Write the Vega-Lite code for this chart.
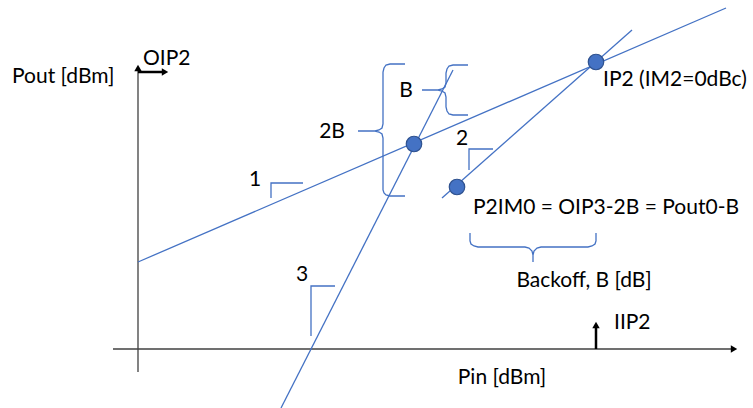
{
  "$schema": "https://vega.github.io/schema/vega-lite/v6.json",
  "width": 753,
  "height": 408,
  "padding": 0,
  "autosize": {"type": "fit", "contains": "padding"},
  "background": "white",
  "config": {"view": {"stroke": null}},
  "datasets": {
    "blue": [
      {"id": "L1", "k": 0, "pin": 0, "pout": 87}, {"id": "L1", "k": 1, "pin": 588, "pout": 341},
      {"id": "L2", "k": 0, "pin": 304, "pout": 151}, {"id": "L2", "k": 1, "pin": 494, "pout": 319},
      {"id": "L3", "k": 0, "pin": 143, "pout": -59}, {"id": "L3", "k": 1, "pin": 315, "pout": 279},
      {"id": "m1", "k": 0, "pin": 133, "pout": 151}, {"id": "m1", "k": 1, "pin": 133, "pout": 166}, {"id": "m1", "k": 2, "pin": 165, "pout": 166},
      {"id": "m2", "k": 0, "pin": 331, "pout": 179}, {"id": "m2", "k": 1, "pin": 331, "pout": 200}, {"id": "m2", "k": 2, "pin": 355, "pout": 200},
      {"id": "m3", "k": 0, "pin": 173, "pout": 13}, {"id": "m3", "k": 1, "pin": 173, "pout": 63}, {"id": "m3", "k": 2, "pin": 197, "pout": 63},
      {"id": "b2B", "k": 0, "pin": 267, "pout": 285}, {"id": "b2B", "k": 1, "pin": 252, "pout": 285}, {"id": "b2B", "k": 2, "pin": 248, "pout": 284},
      {"id": "b2B", "k": 3, "pin": 246, "pout": 281}, {"id": "b2B", "k": 4, "pin": 245, "pout": 277}, {"id": "b2B", "k": 5, "pin": 245, "pout": 225},
      {"id": "b2B", "k": 6, "pin": 244, "pout": 221}, {"id": "b2B", "k": 7, "pin": 241, "pout": 219}, {"id": "b2B", "k": 8, "pin": 237, "pout": 218},
      {"id": "b2B", "k": 9, "pin": 220, "pout": 218}, {"id": "b2B", "k": 10, "pin": 237, "pout": 218}, {"id": "b2B", "k": 11, "pin": 241, "pout": 217},
      {"id": "b2B", "k": 12, "pin": 244, "pout": 215}, {"id": "b2B", "k": 13, "pin": 245, "pout": 211}, {"id": "b2B", "k": 14, "pin": 245, "pout": 159},
      {"id": "b2B", "k": 15, "pin": 246, "pout": 156}, {"id": "b2B", "k": 16, "pin": 248, "pout": 154}, {"id": "b2B", "k": 17, "pin": 252, "pout": 153},
      {"id": "b2B", "k": 18, "pin": 267, "pout": 153},
      {"id": "bB", "k": 0, "pin": 330, "pout": 284}, {"id": "bB", "k": 1, "pin": 315, "pout": 284}, {"id": "bB", "k": 2, "pin": 311, "pout": 283},
      {"id": "bB", "k": 3, "pin": 309, "pout": 280}, {"id": "bB", "k": 4, "pin": 308, "pout": 276}, {"id": "bB", "k": 5, "pin": 308, "pout": 266},
      {"id": "bB", "k": 6, "pin": 307, "pout": 262}, {"id": "bB", "k": 7, "pin": 304, "pout": 260}, {"id": "bB", "k": 8, "pin": 300, "pout": 259},
      {"id": "bB", "k": 9, "pin": 284, "pout": 259}, {"id": "bB", "k": 10, "pin": 300, "pout": 259}, {"id": "bB", "k": 11, "pin": 304, "pout": 258},
      {"id": "bB", "k": 12, "pin": 307, "pout": 256}, {"id": "bB", "k": 13, "pin": 308, "pout": 252}, {"id": "bB", "k": 14, "pin": 308, "pout": 242},
      {"id": "bB", "k": 15, "pin": 309, "pout": 238}, {"id": "bB", "k": 16, "pin": 311, "pout": 235}, {"id": "bB", "k": 17, "pin": 315, "pout": 234},
      {"id": "bB", "k": 18, "pin": 330, "pout": 234},
      {"id": "bK", "k": 0, "pin": 332, "pout": 116}, {"id": "bK", "k": 1, "pin": 332, "pout": 108}, {"id": "bK", "k": 2, "pin": 333, "pout": 105},
      {"id": "bK", "k": 3, "pin": 336, "pout": 103}, {"id": "bK", "k": 4, "pin": 340, "pout": 102}, {"id": "bK", "k": 5, "pin": 387, "pout": 102},
      {"id": "bK", "k": 6, "pin": 391, "pout": 101}, {"id": "bK", "k": 7, "pin": 394, "pout": 98}, {"id": "bK", "k": 8, "pin": 395, "pout": 94},
      {"id": "bK", "k": 9, "pin": 395, "pout": 87}, {"id": "bK", "k": 10, "pin": 395, "pout": 94}, {"id": "bK", "k": 11, "pin": 396, "pout": 98},
      {"id": "bK", "k": 12, "pin": 399, "pout": 101}, {"id": "bK", "k": 13, "pin": 403, "pout": 102}, {"id": "bK", "k": 14, "pin": 450, "pout": 102},
      {"id": "bK", "k": 15, "pin": 454, "pout": 103}, {"id": "bK", "k": 16, "pin": 457, "pout": 105}, {"id": "bK", "k": 17, "pin": 458, "pout": 108},
      {"id": "bK", "k": 18, "pin": 458, "pout": 116}
    ],
    "axes": [
      {"id": "Y", "k": 0, "pin": 0, "pout": -23}, {"id": "Y", "k": 1, "pin": 0, "pout": 279},
      {"id": "X", "k": 0, "pin": -25, "pout": 0}, {"id": "X", "k": 1, "pin": 593, "pout": 0}
    ],
    "arrows": [
      {"id": "OIP2", "k": 0, "pin": 0, "pout": 277}, {"id": "OIP2", "k": 1, "pin": 24, "pout": 277},
      {"id": "IIP2", "k": 0, "pin": 458, "pout": 0}, {"id": "IIP2", "k": 1, "pin": 458, "pout": 22}
    ],
    "heads": [
      {"pin": 0, "pout": 281, "dir": "up"},
      {"pin": 27, "pout": 277, "dir": "right"},
      {"pin": 596, "pout": 0, "dir": "right"},
      {"pin": 458, "pout": 24, "dir": "up"}
    ],
    "dots": [
      {"name": "cross", "pin": 276, "pout": 205},
      {"name": "IP2", "pin": 458, "pout": 287},
      {"name": "P2IM0", "pin": 319, "pout": 162}
    ],
    "textLeft": [
      {"label": "Pout [dBm]", "pin": -126, "pout": 272},
      {"label": "OIP2", "pin": 5, "pout": 290},
      {"label": "IP2 (IM2=0dBc)", "pin": 465, "pout": 269},
      {"label": "P2IM0 = OIP3-2B = Pout0-B", "pin": 335, "pout": 141},
      {"label": "IIP2", "pin": 476, "pout": 26}
    ],
    "textCenter": [
      {"label": "2B", "pin": 194, "pout": 217},
      {"label": "B", "pin": 268, "pout": 258},
      {"label": "1", "pin": 117, "pout": 169},
      {"label": "2", "pin": 324, "pout": 210},
      {"label": "3", "pin": 164, "pout": 74},
      {"label": "Backoff, B [dB]", "pin": 446, "pout": 68},
      {"label": "Pin [dBm]", "pin": 364, "pout": -29}
    ]
  },
  "encoding": {
    "x": {"field": "pin", "type": "quantitative", "axis": null, "scale": {"domain": [-138, 615], "nice": false, "zero": false}},
    "y": {"field": "pout", "type": "quantitative", "axis": null, "scale": {"domain": [-59, 349], "nice": false, "zero": false}}
  },
  "layer": [
    {
      "data": {"name": "axes"},
      "mark": {"type": "line", "color": "#404040", "strokeWidth": 1.3},
      "encoding": {"detail": {"field": "id"}, "order": {"field": "k", "type": "quantitative"}}
    },
    {
      "data": {"name": "blue"},
      "mark": {"type": "line", "color": "#4472C4", "strokeWidth": 1.3, "clip": true},
      "encoding": {"detail": {"field": "id"}, "order": {"field": "k", "type": "quantitative"}}
    },
    {
      "data": {"name": "arrows"},
      "mark": {"type": "line", "color": "#000000", "strokeWidth": 2.5},
      "encoding": {"detail": {"field": "id"}, "order": {"field": "k", "type": "quantitative"}}
    },
    {
      "data": {"name": "heads"},
      "mark": {"type": "point", "filled": true, "color": "#000000", "opacity": 1, "size": 55},
      "encoding": {
        "shape": {"field": "dir", "type": "nominal", "scale": {"domain": ["up", "right"], "range": ["triangle-up", "triangle-right"]}, "legend": null}
      }
    },
    {
      "data": {"name": "dots"},
      "mark": {"type": "circle", "fill": "#4472C4", "stroke": "#2F528F", "strokeWidth": 1.2, "opacity": 1, "size": 240}
    },
    {
      "data": {"name": "textLeft"},
      "mark": {"type": "text", "align": "left", "baseline": "middle", "font": "Lato", "fontSize": 21, "color": "#000000"},
      "encoding": {"text": {"field": "label"}}
    },
    {
      "data": {"name": "textCenter"},
      "mark": {"type": "text", "align": "center", "baseline": "middle", "font": "Lato", "fontSize": 21, "color": "#000000"},
      "encoding": {"text": {"field": "label"}}
    }
  ]
}
